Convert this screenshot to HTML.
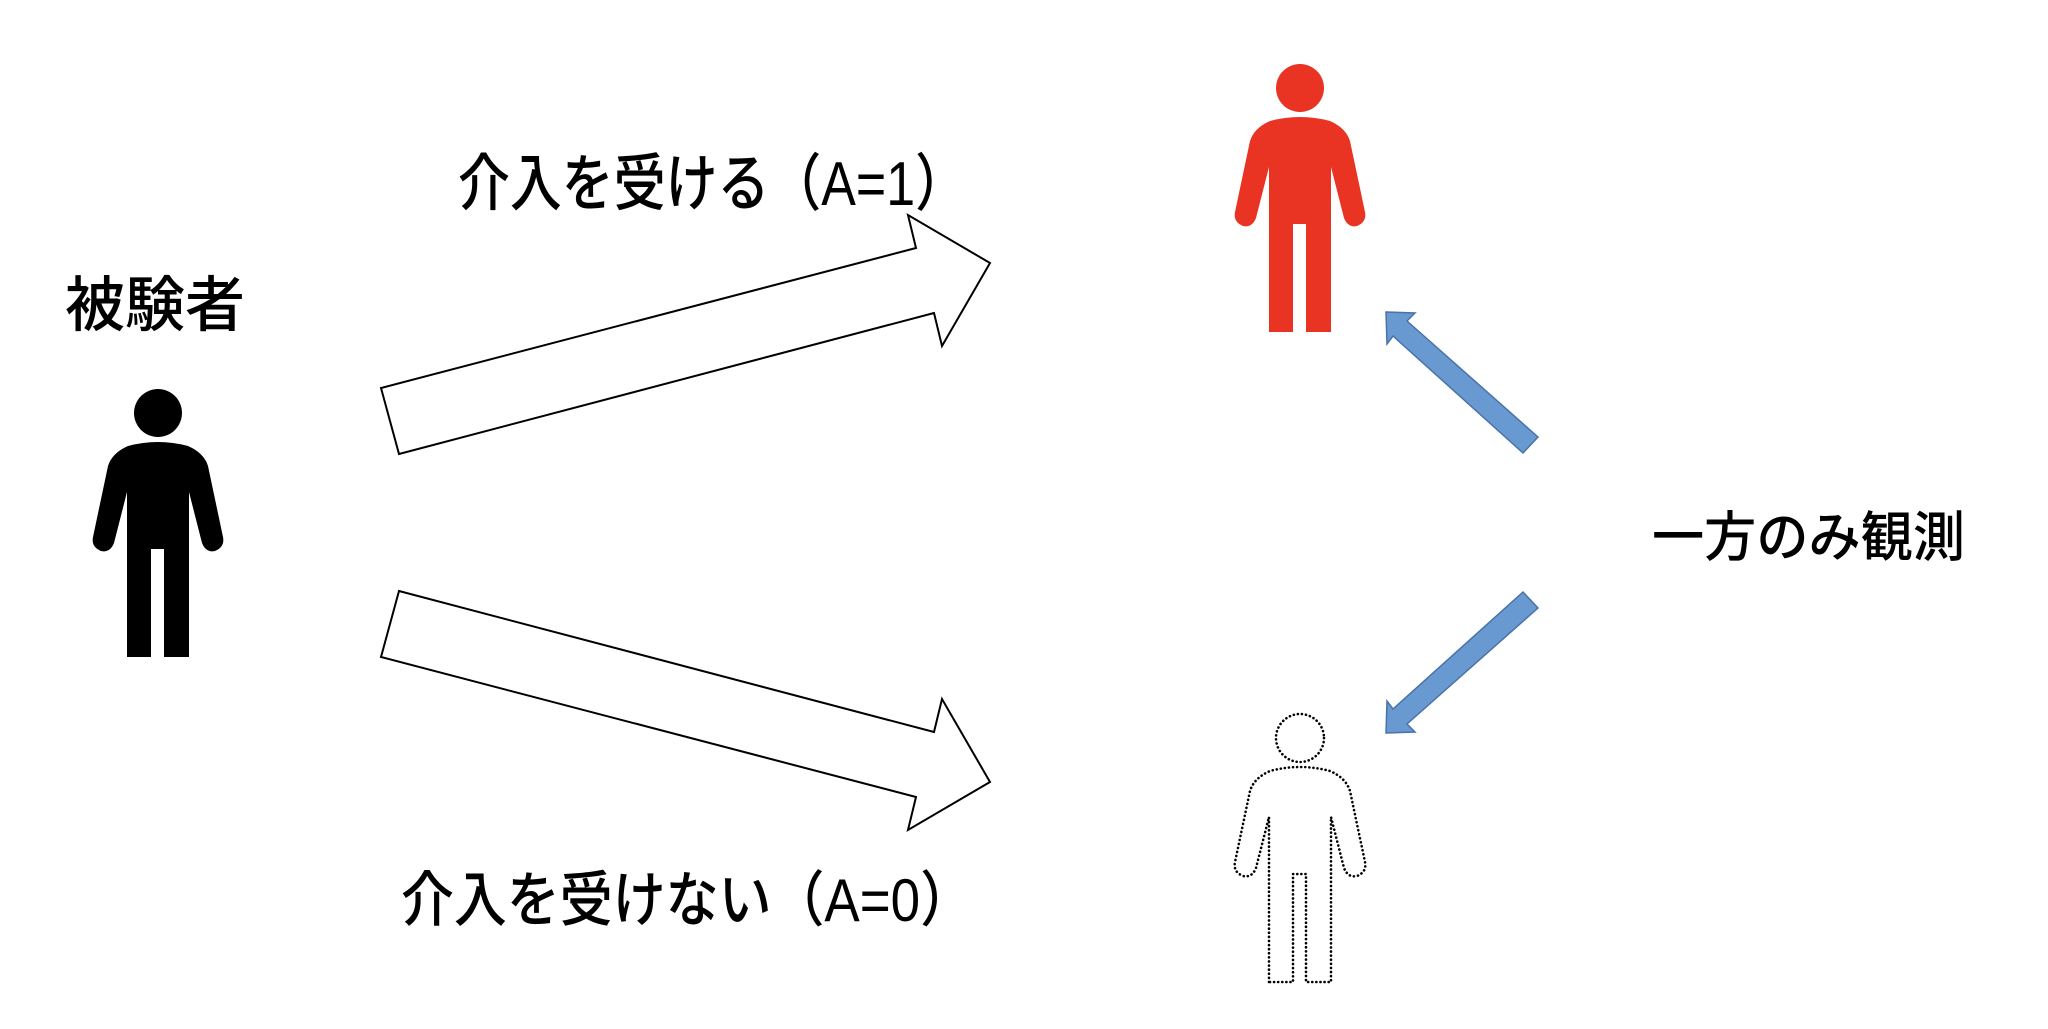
<!DOCTYPE html>
<html><head><meta charset="utf-8"><style>
html,body{margin:0;padding:0;background:#fff;}
svg{display:block;}
text{font-family:"Liberation Sans","Noto Sans CJK JP",sans-serif;fill:#000;font-weight:500;}
</style></head><body>
<svg width="2048" height="1029" viewBox="0 0 2048 1029" xmlns="http://www.w3.org/2000/svg">
<defs>
<path id="body" d="M -31,244 L -31,79 L -44,130 Q -48,140 -57,138 Q -67,134 -65,124 L -50,53 Q -46,40 -30,33 Q 0,25 30,33 Q 46,40 50,53 L 65,124 Q 67,134 57,138 Q 48,140 44,130 L 31,79 L 31,244 L 6,244 L 6,136 L -7,136 L -7,244 Z"/>
</defs>
<g transform="translate(1300,88)" fill="#e93323">
<circle cx="0" cy="0" r="24"/>
<use href="#body"/>
</g>
<g transform="translate(158,413)" fill="#000">
<circle cx="0" cy="0" r="24"/>
<use href="#body"/>
</g>
<g transform="translate(1300,738)" fill="none" stroke="#000" stroke-width="2.6" stroke-dasharray="0.1 4" stroke-linecap="round">
<circle cx="0" cy="0" r="24"/>
<use href="#body"/>
</g>
<polygon points="381,388 916,248 908,215 990,263 942,346 934,313 399,454" fill="#fff" stroke="#000" stroke-width="2"/>
<polygon points="381,657 916,797 908,830 990,782 942,699 934,732 399,591" fill="#fff" stroke="#000" stroke-width="2"/>
<polygon points="1386,312 1415,313 1407,321 1538,437 1523,453 1393,336 1387,344" fill="#6899d0" stroke="#4a72a8" stroke-width="1.5"/>
<polygon points="1386,733 1415,732 1407,724 1538,608 1523,592 1393,709 1387,701" fill="#6899d0" stroke="#4a72a8" stroke-width="1.5"/>
<text x="458" y="205" font-size="62" textLength="509" lengthAdjust="spacingAndGlyphs">介入を受ける（A=1）</text>
<text x="401" y="921" font-size="60" textLength="572" lengthAdjust="spacingAndGlyphs">介入を受けない（A=0）</text>
<text x="65" y="326" font-size="60" textLength="180" lengthAdjust="spacingAndGlyphs">被験者</text>
<text x="1652" y="556" font-size="54" textLength="313" lengthAdjust="spacingAndGlyphs">一方のみ観測</text>
</svg>
</body></html>
